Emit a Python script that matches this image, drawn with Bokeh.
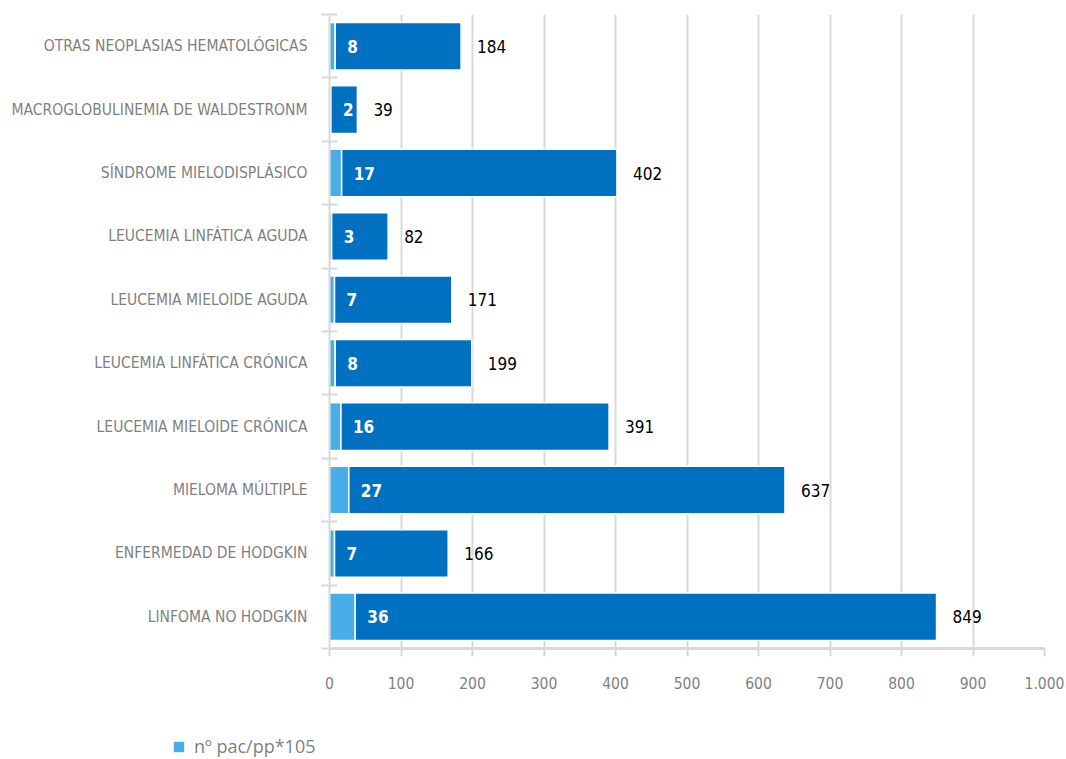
from bokeh.plotting import figure
from bokeh.layouts import column
from bokeh.models import ColumnDataSource, FixedTicker, Legend, LegendItem
from bokeh.core.properties import value
from bokeh.embed import file_html
from bokeh.resources import INLINE

categories = [
    "LINFOMA NO HODGKIN",
    "ENFERMEDAD DE HODGKIN",
    "MIELOMA MÚLTIPLE",
    "LEUCEMIA MIELOIDE CRÓNICA",
    "LEUCEMIA LINFÁTICA CRÓNICA",
    "LEUCEMIA MIELOIDE AGUDA",
    "LEUCEMIA LINFÁTICA AGUDA",
    "SÍNDROME MIELODISPLÁSICO",
    "MACROGLOBULINEMIA DE WALDESTRONM",
    "OTRAS NEOPLASIAS HEMATOLÓGICAS",
]
rate = [36, 7, 27, 16, 8, 7, 3, 17, 2, 8]          # nº pac/pp*105
patients = [849, 166, 637, 391, 199, 171, 82, 402, 39, 184]
x_ticks = [0, 100, 200, 300, 400, 500, 600, 700, 800, 900, 1000]
x_tick_labels = ["0", "100", "200", "300", "400", "500", "600", "700", "800", "900", "1.000"]
legend_label = "nº pac/pp*105"

FONT = "DejaVu Sans Condensed"
GRAY = "#7f7f7f"
LIGHT = "#47aeea"
DARK = "#0070c0"

ypos = [i + 0.5 for i in range(len(categories))]
src = ColumnDataSource(dict(
    y=ypos, rate=rate, patients=patients,
    zero=[0] * len(rate),
    rate_lbl=[str(v) for v in rate],
    pat_lbl=[str(v) for v in patients],
))

p = figure(width=1066, height=720, x_range=(0, 1000), y_range=(0, len(categories)),
           output_backend="svg", toolbar_location=None,
           min_border_left=329, min_border_right=22, min_border_top=14, min_border_bottom=72)
p.outline_line_color = None
p.background_fill_color = "white"
p.border_fill_color = "white"

p.hbar(y="y", left="zero", right="rate", height=0.75, source=src,
       fill_color=LIGHT, line_color="white", line_width=1.5)
p.hbar(y="y", left="rate", right="patients", height=0.75, source=src,
       fill_color=DARK, line_color="white", line_width=1.5)

p.text(x="rate", y="y", text="rate_lbl", source=src, x_offset=12,
       text_font=value(FONT), text_font_size="17px", text_font_style="bold",
       text_color="white", text_align="left", text_baseline="middle")
p.text(x="patients", y="y", text="pat_lbl", source=src, x_offset=16,
       text_font=value(FONT), text_font_size="17px",
       text_color="black", text_align="left", text_baseline="middle")

# x axis
p.xaxis.ticker = FixedTicker(ticks=x_ticks)
p.xaxis.major_label_overrides = {t: l for t, l in zip(x_ticks, x_tick_labels)}
p.xaxis.axis_line_color = "#d9d9d9"
p.xaxis.axis_line_width = 3
p.xaxis.major_tick_line_color = "#d9d9d9"
p.xaxis.major_tick_line_width = 2
p.xaxis.major_tick_in = 0
p.xaxis.major_tick_out = 8
p.xaxis.minor_tick_line_color = None
p.xaxis.major_label_text_font = FONT
p.xaxis.major_label_text_font_size = "15.5px"
p.xaxis.major_label_text_color = GRAY
p.xaxis.major_label_standoff = 20

# y axis
p.yaxis.ticker = FixedTicker(ticks=ypos, minor_ticks=list(range(len(categories) + 1)))
p.yaxis.major_label_overrides = {y: c for y, c in zip(ypos, categories)}
p.yaxis.axis_line_color = "#d9d9d9"
p.yaxis.axis_line_width = 2
p.yaxis.major_tick_line_color = None
p.yaxis.minor_tick_line_color = "#d9d9d9"
p.yaxis.minor_tick_line_width = 2
p.yaxis.minor_tick_in = 8
p.yaxis.minor_tick_out = 8
p.yaxis.major_label_text_font = FONT
p.yaxis.major_label_text_font_size = "15.5px"
p.yaxis.major_label_text_color = GRAY
p.yaxis.major_label_standoff = 14

p.xgrid.ticker = FixedTicker(ticks=x_ticks)
p.xgrid.grid_line_color = "#d9d9d9"
p.xgrid.grid_line_width = 2
p.ygrid.grid_line_color = None

# legend strip below the chart (its view range is kept away from the data,
# so only the legend itself is visible)
pl = figure(width=1066, height=39, output_backend="svg", toolbar_location=None,
            x_range=(5000, 5001), y_range=(5000, 5001),
            min_border=0, min_border_left=0, min_border_right=0,
            min_border_top=0, min_border_bottom=0)
pl.axis.visible = False
pl.grid.visible = False
pl.outline_line_color = None
for fig in (p, pl):
    try:
        fig.frame_align = False
    except Exception:
        pass
leg_r = pl.hbar(y="y", left="zero", right="rate", height=0.75, source=src,
                fill_color=LIGHT, line_color=None)
legend = Legend(items=[LegendItem(label=legend_label, renderers=[leg_r])],
                location=(172, 1), orientation="horizontal",
                label_text_font="Open Sans", label_text_font_size="18px",
                label_text_color=GRAY, glyph_width=13, glyph_height=13,
                border_line_color=None, background_fill_alpha=0,
                padding=0, margin=0, label_standoff=9)
pl.add_layout(legend, "center")

layout = column(p, pl, spacing=0)
open("out.html", "w").write(file_html(layout, INLINE))
